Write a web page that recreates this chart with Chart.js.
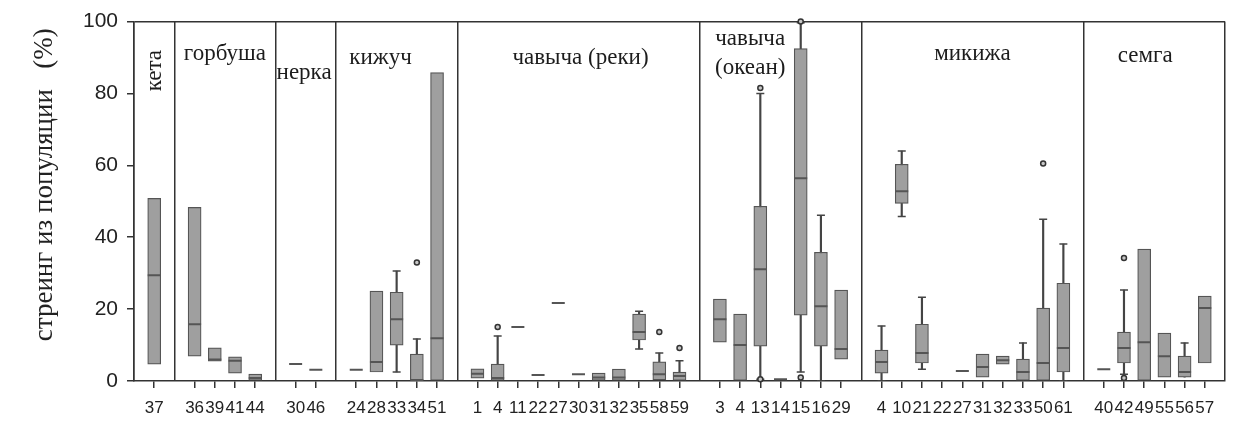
<!DOCTYPE html>
<html>
<head>
<meta charset="utf-8">
<script src="https://cdn.jsdelivr.net/npm/chart.js@4.4.1/dist/chart.umd.min.js"></script>
<style>
  body { margin: 0; background: #fff; }
</style>
</head>
<body>
<canvas id="chart" width="1247" height="421"></canvas>
<script>
const species = ['кета', 'горбуша', 'нерка', 'кижуч', 'чавыча (реки)', 'чавыча (океан)', 'микижа', 'семга'];
const populations = [
  [37],
  [36, 39, 41, 44],
  [30, 46],
  [24, 28, 33, 34, 51],
  [1, 4, 11, 22, 27, 30, 31, 32, 35, 58, 59],
  [3, 4, 13, 14, 15, 16, 29],
  [4, 10, 21, 22, 27, 31, 32, 33, 50, 61],
  [40, 42, 49, 55, 56, 57]
];

// box statistics, one entry per population in the order above
const q1 = [4.7, 6.9, 5.5, 2.2, 0.2, null, null, null, 2.5, 10.0, 0, 0,
  0.8, 0, null, null, null, null, 0.2, 0.2, 11.4, 0.3, 0,
  10.8, 0, 9.7, null, 18.3, 9.7, 6.1,
  2.2, 49.4, 5.0, null, null, 1.1, 4.7, 0.2, 0, 2.5,
  null, 5.0, 0, 1.1, 1.1, 5.0];
const median = [29.4, 15.8, 6.0, 5.6, 0.8, 4.7, 3.1, 3.1, 5.3, 17.2, 0.3, 11.9,
  2.0, 0.8, 15.0, 1.7, 21.7, 1.9, 1.0, 1.0, 13.6, 1.9, 1.4,
  17.2, 10.0, 31.1, 0.5, 56.4, 20.8, 8.9,
  5.3, 52.8, 7.8, null, 2.8, 3.9, 5.8, 2.5, 5.0, 9.2,
  3.3, 9.2, 10.8, 6.9, 2.5, 20.3];
const q3 = [50.8, 48.3, 9.2, 6.7, 1.9, null, null, null, 25.0, 24.7, 7.5, 85.8,
  3.4, 4.7, null, null, null, null, 2.2, 3.3, 18.6, 5.3, 2.5,
  22.8, 18.6, 48.6, null, 92.5, 35.8, 25.3,
  8.6, 60.3, 15.8, null, null, 7.5, 6.9, 6.1, 20.3, 27.2,
  null, 13.6, 36.7, 13.3, 6.9, 23.6];
const whiskerLow = [null, null, null, null, null, null, null, null, null, 2.5, null, null,
  null, null, null, null, null, null, null, null, 8.9, null, null,
  null, null, 0.5, null, 2.5, 0, null,
  0, 45.8, 3.3, null, null, null, null, null, null, 0,
  null, 1.9, null, null, null, null];
const whiskerHigh = [null, null, null, null, null, null, null, null, null, 30.6, 11.7, null,
  null, 12.5, null, null, null, null, null, null, 19.4, 7.8, 5.6,
  null, null, 80.0, null, 99.7, 46.1, null,
  15.3, 64.0, 23.3, null, null, null, null, 10.6, 45.0, 38.1,
  null, 25.3, null, null, 10.6, null];
// [population index, value]
const outliers = [[10, 33.0], [13, 15.0], [21, 13.6], [22, 9.2], [25, 81.5], [25, 0.5],
  [27, 100], [27, 1.0], [38, 60.5], [41, 34.2], [41, 0.8]];
const yTicks = [0, 20, 40, 60, 80, 100];

// category slots: an empty slot sits on every panel border
const labels = [''];
const pos = [-1];
let n = 0;
populations.forEach(group => {
  group.forEach(p => { labels.push(String(p)); pos.push(n++); });
  labels.push('');
  pos.push(-1);
});

const pick = arr => pos.map(i => (i < 0 || arr[i] == null) ? null : arr[i]);
const boxData = pos.map(i => (i < 0 || q1[i] == null) ? null : [q1[i], q3[i]]);
const whiskerData = pos.map(i => {
  if (i < 0 || (whiskerLow[i] == null && whiskerHigh[i] == null)) return null;
  return [whiskerLow[i] ?? q1[i], whiskerHigh[i] ?? q3[i]];
});
const outHigh = labels.map(() => null);
const outLow = labels.map(() => null);
outliers.forEach(([i, v]) => {
  const j = pos.indexOf(i);
  if (outHigh[j] == null) outHigh[j] = v; else outLow[j] = v;
});

// species captions: [slot position, offset from top of plot, rotated]
const captionSpots = [
  [1.04, [49], true],
  [4.5, [32]],
  [8.42, [51]],
  [12.2, [36]],
  [22.1, [36]],
  [30.5, [17, 46]],
  [41.5, [32]],
  [50.05, [34]]
];

const captions = {
  id: 'captions',
  afterDatasetsDraw(chart) {
    const { ctx, chartArea, scales: { x } } = chart;
    ctx.save();
    ctx.font = '23px "Liberation Serif", "Times New Roman", serif';
    ctx.fillStyle = '#1c1c1c';
    ctx.textAlign = 'center';
    ctx.textBaseline = 'middle';
    species.forEach((name, s) => {
      const [at, dys, rotated] = captionSpots[s];
      const px = x.getPixelForValue(at);
      const lines = dys.length > 1 ? name.split(' ') : [name];
      lines.forEach((line, li) => {
        const py = chartArea.top + dys[li];
        if (rotated) {
          ctx.save();
          ctx.translate(px, py);
          ctx.rotate(-Math.PI / 2);
          ctx.fillText(line, 0, 0);
          ctx.restore();
        } else {
          ctx.fillText(line, px, py);
        }
      });
    });
    ctx.restore();
  }
};

Chart.defaults.font.family = '"Liberation Sans", Arial, sans-serif';
Chart.defaults.color = '#222';

const dark = '#333';
const isBorder = i => labels[i] === '';

new Chart(document.getElementById('chart'), {
  type: 'bar',
  data: {
    labels: labels,
    datasets: [
      {
        label: 'whisker',
        data: whiskerData,
        backgroundColor: '#444',
        barThickness: 1.5,
        grouped: false,
        order: 5
      },
      {
        label: 'box',
        data: boxData,
        backgroundColor: '#9f9f9f',
        borderColor: '#555',
        borderWidth: 1.2,
        borderSkipped: false,
        barThickness: 13,
        grouped: false,
        order: 4
      },
      {
        type: 'line',
        label: 'capLow',
        data: pick(whiskerLow),
        showLine: false,
        pointStyle: 'line',
        pointRadius: 4,
        pointBorderWidth: 1.5,
        pointBorderColor: '#444',
        order: 3
      },
      {
        type: 'line',
        label: 'capHigh',
        data: pick(whiskerHigh),
        showLine: false,
        pointStyle: 'line',
        pointRadius: 4,
        pointBorderWidth: 1.5,
        pointBorderColor: '#444',
        order: 3
      },
      {
        type: 'line',
        label: 'median',
        data: pick(median),
        showLine: false,
        pointStyle: 'line',
        pointRadius: 6.5,
        pointBorderWidth: 2,
        pointBorderColor: '#555',
        order: 2
      },
      {
        type: 'line',
        label: 'outlierHigh',
        data: outHigh,
        showLine: false,
        pointStyle: 'circle',
        pointRadius: 2.5,
        pointBorderWidth: 1.5,
        pointBorderColor: dark,
        pointBackgroundColor: '#c8c8c8',
        clip: false,
        order: 1
      },
      {
        type: 'line',
        label: 'outlierLow',
        data: outLow,
        showLine: false,
        pointStyle: 'circle',
        pointRadius: 2.5,
        pointBorderWidth: 1.5,
        pointBorderColor: dark,
        pointBackgroundColor: '#c8c8c8',
        clip: false,
        order: 1
      }
    ]
  },
  options: {
    responsive: false,
    animation: false,
    events: [],
    layout: { padding: { top: 21, right: 22, left: 0, bottom: 0 } },
    plugins: {
      legend: { display: false },
      tooltip: { enabled: false }
    },
    scales: {
      x: {
        type: 'category',
        offset: false,
        afterFit: s => { s.height = 40; },
        border: { color: dark, width: 1.5 },
        grid: {
          offset: false,
          lineWidth: 1.5,
          tickLength: 7,
          color: c => isBorder(c.index) ? dark : 'transparent',
          tickColor: c => isBorder(c.index) ? 'transparent' : dark
        },
        ticks: {
          autoSkip: false,
          maxRotation: 0,
          minRotation: 0,
          padding: 10,
          font: { size: 17 },
          color: '#222'
        }
      },
      y: {
        min: 0,
        max: 100,
        afterFit: s => { s.width = 134; },
        afterBuildTicks: s => { s.ticks = yTicks.map(v => ({ value: v })); },
        border: { color: dark, width: 1.5 },
        grid: {
          lineWidth: 1.5,
          tickLength: 7,
          color: c => c.tick && c.tick.value === 100 ? dark : 'transparent',
          tickColor: dark
        },
        ticks: {
          padding: 9,
          font: { size: 21 },
          color: '#222'
        },
        title: {
          display: true,
          text: 'стреинг из популяции   (%) ',
          align: 'end',
          padding: { top: 29, bottom: 0 },
          font: { size: 27, family: '"Liberation Serif", "Times New Roman", serif' },
          color: '#222'
        }
      }
    }
  },
  plugins: [captions]
});
</script>
</body>
</html>
